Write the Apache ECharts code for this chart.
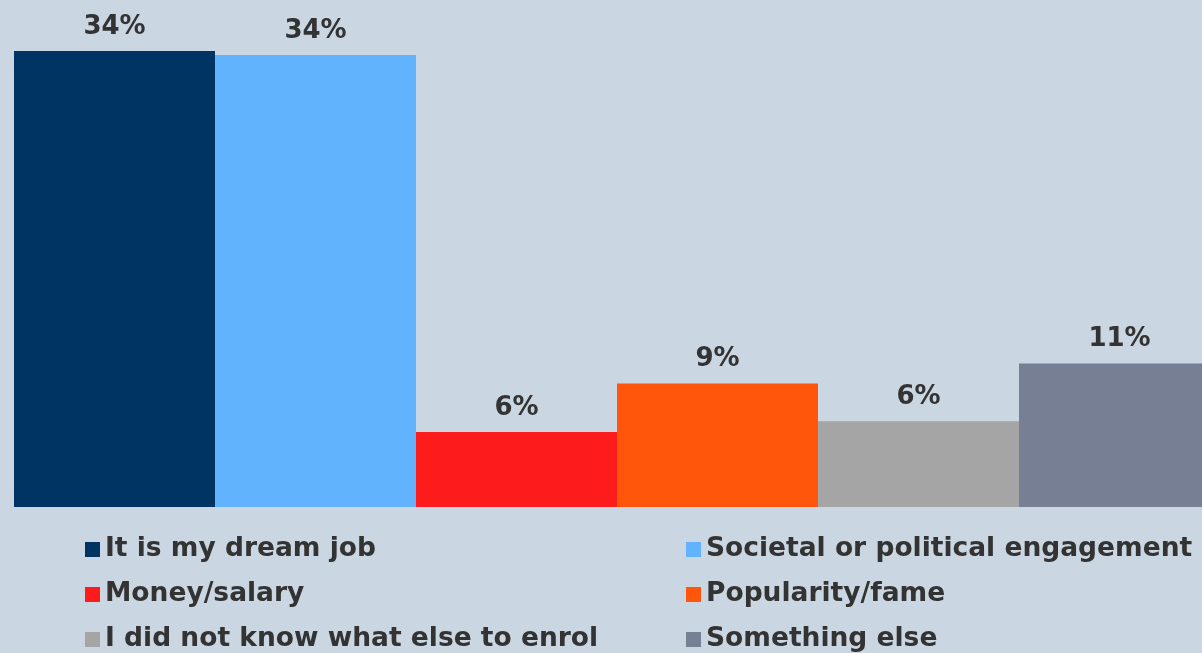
<!DOCTYPE html>
<html><head><meta charset="utf-8">
<script src="https://cdn.jsdelivr.net/npm/echarts@6/dist/echarts.min.js"></script>
<style>html,body{margin:0;padding:0;background:#cad6e2;}#c{width:1202px;height:653px;}</style>
</head><body><div id="c"></div>
<script>
const seriesNames = ['It is my dream job','Societal or political engagement','Money/salary','Popularity/fame','I did not know what else to enrol','Something else'];
const seriesValues = [34.0, 33.7, 5.6, 9.2, 6.4, 10.7];
const seriesColors = ['#003462','#61b3fe','#fe1b1b','#ff560c','#a5a5a5','#767f93'];
const categories = [''];

const font = 'DejaVu Sans, Verdana, sans-serif';
const chart = echarts.init(document.getElementById('c'));
const series = seriesNames.map((n, i) => ({
  name: n, type: 'bar', data: [seriesValues[i]],
  barGap: '0%', barWidth: 201, clip: false,
  itemStyle: { color: seriesColors[i] },
  label: { show: true, position: 'top', distance: 11, color: '#333333', fontFamily: font, fontWeight: 'bold', fontSize: 26,
    formatter: p => Math.round(p.value) + '%' }
}));
const legendCommon = {
  orient: 'vertical', itemWidth: 15, itemHeight: 15, itemGap: 18, icon: 'rect', padding: 0, height: 140,
  textStyle: { color: '#333333', fontFamily: font, fontWeight: 'bold', fontSize: 26.5, lineHeight: 26 },
  selectedMode: false
};
chart.setOption({
  backgroundColor: '#cad6e2',
  animation: false,
  grid: { left: 32, right: 0, top: 51, bottom: 146, containLabel: false },
  xAxis: { type: 'category', data: categories, show: false },
  yAxis: { type: 'value', min: 0, max: 34, show: false },
  legend: [
    Object.assign({}, legendCommon, { left: 85, top: 536, data: [seriesNames[0], seriesNames[2], seriesNames[4]] }),
    Object.assign({}, legendCommon, { left: 686, top: 536, data: [seriesNames[1], seriesNames[3], seriesNames[5]] })
  ],
  series: series
});
</script></body></html>
